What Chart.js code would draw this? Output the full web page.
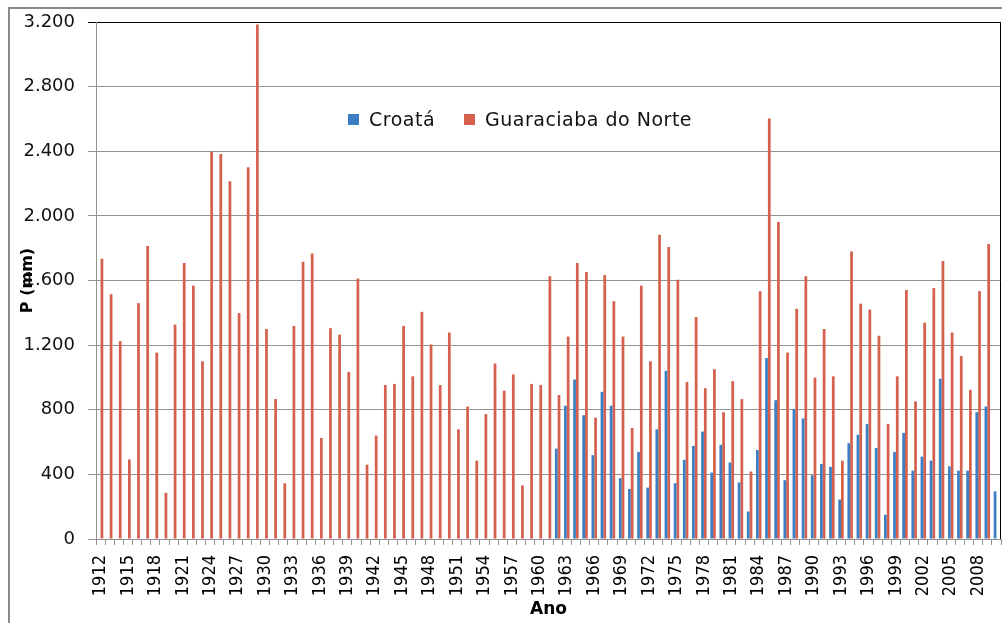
<!DOCTYPE html>
<html>
<head>
<meta charset="utf-8">
<title>Precipitação anual</title>
<script src="https://cdn.jsdelivr.net/npm/chart.js@4.4.1/dist/chart.umd.min.js"></script>
<style>
  html, body { margin: 0; padding: 0; background: #fff; overflow: hidden; }
  #frame { position: absolute; left: 8px; top: 7px; width: 1100px; height: 700px; border: 2px solid #8a8a8a; }
  #wrap { position: absolute; left: 0; top: 0; width: 1002px; height: 623px; }
  #legend { position: absolute; left: 348px; top: 108px; font: 19px "DejaVu Sans", sans-serif; letter-spacing: 0.5px; color: #111; white-space: nowrap; }
  #legend span.item { display: inline-block; margin-right: 29px; }
  #legend span.box { display: inline-block; width: 11px; height: 11px; margin-right: 10px; vertical-align: 1px; }
</style>
</head>
<body>
<div id="frame"></div>
<div id="wrap"><canvas id="chart" width="1002" height="623"></canvas></div>
<div id="legend"></div>
<script>
// anos (categorias)
var years = ['1912','1913','1914','1915','1916','1917','1918','1919','1920','1921',
  '1922','1923','1924','1925','1926','1927','1928','1929','1930','1931',
  '1932','1933','1934','1935','1936','1937','1938','1939','1940','1941',
  '1942','1943','1944','1945','1946','1947','1948','1949','1950','1951',
  '1952','1953','1954','1955','1956','1957','1958','1959','1960','1961',
  '1962','1963','1964','1965','1966','1967','1968','1969','1970','1971',
  '1972','1973','1974','1975','1976','1977','1978','1979','1980','1981',
  '1982','1983','1984','1985','1986','1987','1988','1989','1990','1991',
  '1992','1993','1994','1995','1996','1997','1998','1999','2000','2001',
  '2002','2003','2004','2005','2006','2007','2008','2009','2010'];

// anos que aparecem no eixo
var tickYears = ['1912','1915','1918','1921','1924','1927','1930','1933','1936','1939',
  '1942','1945','1948','1951','1954','1957','1960','1963','1966','1969','1972','1975',
  '1978','1981','1984','1987','1990','1993','1996','1999','2002','2005','2008'];

var yTicks = [0, 400, 800, 1200, 1600, 2000, 2400, 2800, 3200];

// P (mm) - Croatá (sem dados antes de 1962)
var croata = [null,null,null,null,null,null,null,null,null,null,
  null,null,null,null,null,null,null,null,null,null,
  null,null,null,null,null,null,null,null,null,null,
  null,null,null,null,null,null,null,null,null,null,
  null,null,null,null,null,null,null,null,null,null,
  559,825,987,766,519,911,825,377,310,539,
  318,679,1041,345,490,576,665,411,583,473,
  350,170,551,1120,859,364,805,746,394,465,
  446,244,593,645,711,564,150,539,657,423,
  510,485,992,450,423,423,785,820,295];

// P (mm) - Guaraciaba do Norte
var guaraciaba = [1735,1515,1225,492,1460,1814,1154,286,1327,1708,
  1568,1100,2397,2383,2215,1398,2301,3185,1300,866,
  345,1319,1716,1767,625,1305,1265,1034,1612,460,
  640,953,960,1319,1007,1406,1204,953,1278,679,
  820,485,773,1086,918,1019,332,960,953,1627,
  891,1253,1708,1652,751,1634,1472,1253,687,1568,
  1100,1883,1807,1605,972,1374,933,1051,785,977,
  866,418,1534,2602,1962,1154,1425,1627,999,1300,
  1007,485,1780,1457,1420,1258,711,1007,1541,852,
  1339,1553,1721,1278,1132,923,1534,1826,null];

var gridGray = '#929292';

// moldura da área do gráfico (linha preta à direita)
var plotBorder = {
  id: 'plotBorder',
  beforeDatasetsDraw: function(chart) {
    var a = chart.chartArea, ctx = chart.ctx;
    ctx.save();
    ctx.strokeStyle = '#000';
    ctx.lineWidth = 1;
    ctx.beginPath();
    ctx.moveTo(a.right - 0.5, a.top);
    ctx.lineTo(a.right - 0.5, a.bottom);
    ctx.stroke();
    ctx.restore();
  }
};

var chart = new Chart(document.getElementById('chart'), {
  type: 'bar',
  data: {
    labels: years,
    datasets: [
      { label: 'Croatá', data: croata, backgroundColor: '#3c7ec2' },
      { label: 'Guaraciaba do Norte', data: guaraciaba, backgroundColor: '#d5604d' }
    ]
  },
  options: {
    responsive: false,
    animation: false,
    categoryPercentage: 0.6,
    barPercentage: 1.0,
    layout: { padding: { left: 0, top: 22, right: 1, bottom: 0 } },
    plugins: { legend: { display: false }, tooltip: { enabled: false } },
    scales: {
      x: {
        grid: { display: true, drawOnChartArea: false, drawTicks: true, tickLength: 6, color: gridGray, offset: true },
        border: { color: gridGray },
        ticks: {
          autoSkip: false, minRotation: 90, maxRotation: 90, padding: 10,
          color: '#000',
          font: { family: 'DejaVu Sans Condensed', size: 18 },
          callback: function(v, i) { return tickYears.indexOf(years[i]) >= 0 ? years[i] : ''; }
        },
        title: { display: true, text: 'Ano', color: '#000', padding: { top: 0, bottom: 3 },
          font: { family: 'DejaVu Sans', size: 17, weight: 'bold' } },
        afterFit: function(s) { s.height = 84; s.paddingLeft = 0; s.paddingRight = 0; }
      },
      y: {
        min: 0, max: 3200,
        afterBuildTicks: function(s) { s.ticks = yTicks.map(function(v) { return { value: v }; }); },
        grid: {
          tickLength: 8,
          color: function(c) { return c.tick && c.tick.value === 3200 ? '#000' : gridGray; }
        },
        border: { color: gridGray },
        ticks: {
          padding: 13, color: '#111',
          font: { family: 'DejaVu Sans', size: 18 },
          callback: function(v) { return String(v).replace(/\B(?=(\d{3})+(?!\d))/g, '.'); }
        },
        title: { display: true, text: 'P (mm)', color: '#000', padding: { top: 18, bottom: 0 },
          font: { family: 'DejaVu Sans', size: 16, weight: 'bold' } },
        afterFit: function(s) { s.width = 96; s.paddingTop = 0; s.paddingBottom = 0; }
      }
    }
  },
  plugins: [plotBorder]
});

// legenda dentro da área do gráfico
var lg = document.getElementById('legend');
chart.data.datasets.forEach(function(ds) {
  var item = document.createElement('span');
  item.className = 'item';
  var box = document.createElement('span');
  box.className = 'box';
  box.style.background = ds.backgroundColor;
  item.appendChild(box);
  item.appendChild(document.createTextNode(ds.label));
  lg.appendChild(item);
});
</script>
</body>
</html>
